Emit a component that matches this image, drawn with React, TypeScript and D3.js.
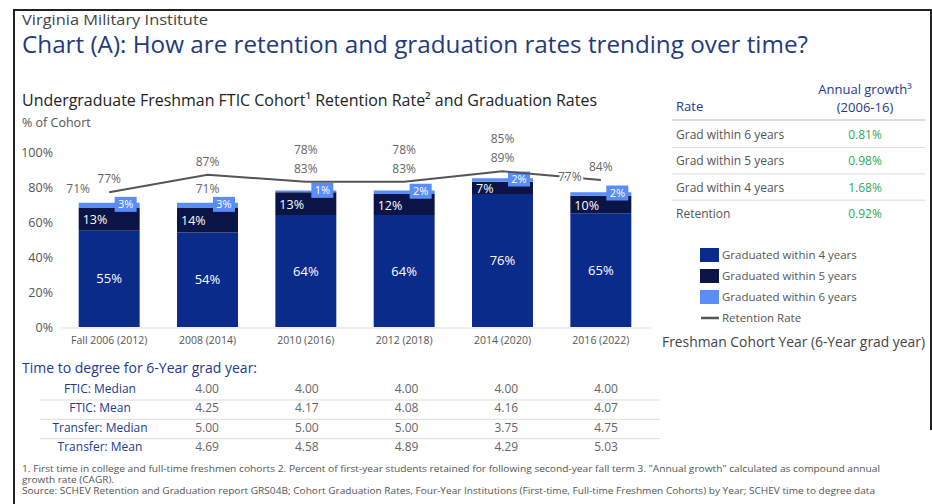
import React, { useEffect, useRef } from 'react';
import * as d3 from 'd3';

// cohort year (6-year grad year)
const cohorts = ['Fall 2006 (2012)', '2008 (2014)', '2010 (2016)', '2012 (2018)', '2014 (2020)', '2016 (2022)'];
const grad4 = [55, 54, 64, 64, 76, 65];
const grad5 = [13, 14, 13, 12, 7, 10];
const grad6 = [3, 3, 1, 2, 2, 2];
const gradTotal = [71, 71, 78, 78, 85, 77];
const retention = [77, 87, 83, 83, 89, 84];
const yTicks = [0, 20, 40, 60, 80, 100];

const legendLabels = ['Graduated within 4 years', 'Graduated within 5 years', 'Graduated within 6 years'];
const lineLegendLabel = 'Retention Rate';

const growthRates = ['Grad within 6 years', 'Grad within 5 years', 'Grad within 4 years', 'Retention'];
const growthValues = ['0.81%', '0.98%', '1.68%', '0.92%'];

const degreeMeasures = ['FTIC: Median', 'FTIC: Mean', 'Transfer: Median', 'Transfer: Mean'];
const fticMedian = [4.0, 4.0, 4.0, 4.0, 4.0];
const fticMean = [4.25, 4.17, 4.08, 4.16, 4.07];
const transferMedian = [5.0, 5.0, 5.0, 3.75, 4.75];
const transferMean = [4.69, 4.58, 4.89, 4.29, 5.03];

const footnotes = [
    '1. First time in college and full-time freshmen cohorts 2. Percent of first-year students retained for following second-year fall term  3. "Annual growth" calculated as compound annual',
    'growth rate (CAGR).',
    'Source: SCHEV Retention and Graduation report GRS04B; Cohort Graduation Rates, Four-Year Institutions (First-time, Full-time Freshmen Cohorts) by Year; SCHEV time to degree data',
];

const W = 932;
const H = 504;
const FONT = "'Open Sans', 'Noto Sans', sans-serif";
const NAVY = '#24398a';
const GRAY = '#555';
const colors = ['#0b2b8b', '#0a1446', '#5a8df5'];

const App: React.FC = () => {
    const svgRef = useRef<SVGSVGElement | null>(null);

    useEffect(() => {
        const svg = d3.select(svgRef.current);
        svg.selectAll('*').remove();
        svg.attr('width', W).attr('height', H).style('font-family', FONT);

        svg.append('rect').attr('width', W).attr('height', H).attr('fill', '#fff');

        // outer frame
        svg.append('path')
            .attr('d', 'M14,504V10H931V430')
            .attr('fill', 'none')
            .attr('stroke', '#222')
            .attr('stroke-width', 2);

        // headings
        svg.append('text').attr('x', 22).attr('y', 25)
            .attr('font-size', 14.5).attr('fill', '#444')
            .attr('textLength', 186).attr('lengthAdjust', 'spacingAndGlyphs')
            .text('Virginia Military Institute');
        svg.append('text').attr('x', 22).attr('y', 53)
            .attr('font-size', 23.5).attr('fill', '#1f3a7d')
            .attr('textLength', 786).attr('lengthAdjust', 'spacingAndGlyphs')
            .text('Chart (A): How are retention and graduation rates trending over time?');
        svg.append('text').attr('x', 22).attr('y', 106)
            .attr('font-size', 16).attr('fill', '#222')
            .attr('textLength', 575).attr('lengthAdjust', 'spacingAndGlyphs')
            .text('Undergraduate Freshman FTIC Cohort¹ Retention Rate² and Graduation Rates');
        svg.append('text').attr('x', 22).attr('y', 127)
            .attr('font-size', 12.5).attr('fill', GRAY)
            .text('% of Cohort');

        // scales
        const x = d3.scaleBand<string>()
            .domain(cohorts)
            .range([60, 650])
            .paddingInner(0.38)
            .paddingOuter(0.19);
        const y = d3.scaleLinear().domain([0, 100]).range([327, 152]);
        const bw = x.bandwidth();
        const cx = (c: string) => (x(c) as number) + bw / 2;

        // y axis
        const yAxis = svg.append('g')
            .attr('transform', 'translate(53,0)')
            .call(d3.axisLeft(y).tickValues(yTicks).tickFormat(d => `${d}%`).tickSize(0).tickPadding(0));
        yAxis.select('.domain').remove();
        yAxis.selectAll('text').attr('fill', GRAY).attr('font-size', 12.5).style('font-family', FONT);

        // x axis
        const xAxis = svg.append('g')
            .attr('transform', 'translate(0,327.5)')
            .call(d3.axisBottom(x).tickSize(0).tickPadding(9.5));
        xAxis.select('.domain').attr('stroke', '#ddd');
        xAxis.selectAll('text').attr('fill', GRAY).attr('font-size', 10.5).style('font-family', FONT);

        // stacked bars
        const rows = cohorts.map((c, i) => ({ cohort: c, g4: grad4[i], g5: grad5[i], g6: grad6[i] }));
        const keys = ['g4', 'g5', 'g6'];
        const series = d3.stack<any>().keys(keys)(rows);

        series.forEach((s, si) => {
            svg.append('g')
                .selectAll('rect')
                .data(s)
                .enter()
                .append('rect')
                .attr('x', d => x(d.data.cohort) as number)
                .attr('y', d => y(d[1]))
                .attr('width', bw)
                .attr('height', d => y(d[0]) - y(d[1]))
                .attr('fill', colors[si]);
        });

        // 4-year labels
        svg.append('g').selectAll('text')
            .data(series[0])
            .enter()
            .append('text')
            .attr('x', d => cx(d.data.cohort))
            .attr('y', d => (y(d[0]) + y(d[1])) / 2 + 4.5)
            .attr('text-anchor', 'middle')
            .attr('font-size', 13)
            .attr('fill', '#fff')
            .text(d => `${d[1] - d[0]}%`);

        // 5-year labels
        svg.append('g').selectAll('text')
            .data(series[1])
            .enter()
            .append('text')
            .attr('x', d => (x(d.data.cohort) as number) + 4)
            .attr('y', d => (y(d[0]) + y(d[1])) / 2 + 5)
            .attr('font-size', 12.5)
            .attr('fill', '#fff')
            .text(d => `${d[1] - d[0]}%`);

        // 6-year labels with boxes
        const g6 = svg.append('g').selectAll('g')
            .data(series[2])
            .enter()
            .append('g')
            .attr('transform', d => `translate(${(x(d.data.cohort) as number) + bw - 3},${(y(d[0]) + y(d[1])) / 2 - 1})`);
        g6.append('rect')
            .attr('x', -22).attr('y', -7.5)
            .attr('width', 22).attr('height', 15)
            .attr('fill', colors[2]);
        g6.append('text')
            .attr('x', -11).attr('y', 4)
            .attr('text-anchor', 'middle')
            .attr('font-size', 11)
            .attr('fill', '#fff')
            .text(d => `${d[1] - d[0]}%`);

        // retention line
        const line = d3.line<number>()
            .x((_, i) => cx(cohorts[i]))
            .y(d => y(d));
        svg.append('path')
            .datum(retention)
            .attr('d', line)
            .attr('fill', 'none')
            .attr('stroke', '#555')
            .attr('stroke-width', 2);

        // retention labels
        svg.append('g').selectAll('text')
            .data(retention)
            .enter()
            .append('text')
            .attr('x', (_, i) => cx(cohorts[i]))
            .attr('y', d => y(d) - 9)
            .attr('text-anchor', 'middle')
            .attr('font-size', 12)
            .attr('fill', '#666')
            .text(d => `${d}%`);

        // total graduation labels
        const placement = ['left', 'belowLine', 'above', 'above', 'above', 'left'];
        svg.append('g').selectAll('text')
            .data(gradTotal)
            .enter()
            .append('text')
            .attr('x', (_, i) => cx(cohorts[i]) + (placement[i] === 'left' ? -31 : 0))
            .attr('y', (d, i) => {
                if (placement[i] === 'left') return y(retention[i]) + 1;
                if (placement[i] === 'belowLine') return y(d) - 10;
                return y(retention[i]) - 28;
            })
            .attr('text-anchor', 'middle')
            .attr('font-size', 12)
            .attr('fill', '#666')
            .attr('stroke', '#fff')
            .attr('stroke-width', 4)
            .attr('paint-order', 'stroke')
            .text(d => `${d}%`);

        // legend
        const legend = svg.append('g').attr('transform', 'translate(700,0)');
        legendLabels.forEach((label, i) => {
            const ly = 255 + i * 21;
            legend.append('rect')
                .attr('x', 0).attr('y', ly - 7)
                .attr('width', 19).attr('height', 14)
                .attr('fill', colors[i]);
            legend.append('text')
                .attr('x', 22).attr('y', ly + 4)
                .attr('font-size', 11.5).attr('fill', GRAY)
                .text(label);
        });
        legend.append('line')
            .attr('x1', 1).attr('x2', 19)
            .attr('y1', 318).attr('y2', 318)
            .attr('stroke', '#555').attr('stroke-width', 2.5);
        legend.append('text')
            .attr('x', 22).attr('y', 322)
            .attr('font-size', 11.5).attr('fill', GRAY)
            .text(lineLegendLabel);

        svg.append('text')
            .attr('x', 662).attr('y', 347)
            .attr('font-size', 14).attr('fill', '#444')
            .attr('textLength', 263).attr('lengthAdjust', 'spacingAndGlyphs')
            .text('Freshman Cohort Year (6-Year grad year)');

        // annual growth table
        const tbl = svg.append('g');
        const valueX = 865;
        tbl.append('text').attr('x', 676).attr('y', 111)
            .attr('font-size', 13).attr('fill', NAVY).text('Rate');
        tbl.append('text').attr('x', valueX).attr('y', 94)
            .attr('text-anchor', 'middle')
            .attr('font-size', 13).attr('fill', NAVY).text('Annual growth³');
        tbl.append('text').attr('x', valueX).attr('y', 112)
            .attr('text-anchor', 'middle')
            .attr('font-size', 13).attr('fill', NAVY).text('(2006-16)');
        tbl.append('line')
            .attr('x1', 672).attr('x2', 925).attr('y1', 120).attr('y2', 120)
            .attr('stroke', '#bbb').attr('stroke-width', 1);

        const rowY = d3.scalePoint<string>().domain(growthRates).range([139, 218]);
        growthRates.forEach((r, i) => {
            const ry = rowY(r) as number;
            tbl.append('text').attr('x', 676).attr('y', ry)
                .attr('font-size', 12).attr('fill', GRAY).text(r);
            tbl.append('text').attr('x', valueX).attr('y', ry)
                .attr('text-anchor', 'middle')
                .attr('font-size', 12).attr('fill', '#2fa85a').text(growthValues[i]);
            if (i < growthRates.length - 1) {
                tbl.append('line')
                    .attr('x1', 672).attr('x2', 925)
                    .attr('y1', ry + 8.5).attr('y2', ry + 8.5)
                    .attr('stroke', '#ddd').attr('stroke-width', 1);
            }
        });

        // time to degree table
        svg.append('text').attr('x', 22).attr('y', 373)
            .attr('font-size', 14).attr('fill', NAVY)
            .text('Time to degree for 6-Year grad year:');

        const degreeRows = [fticMedian, fticMean, transferMedian, transferMean];
        const colX = d3.scalePoint<number>().domain(d3.range(fticMedian.length)).range([207, 606]);
        const degY = d3.scalePoint<string>().domain(degreeMeasures).range([393, 451]);
        degreeMeasures.forEach((m, ri) => {
            const ry = degY(m) as number;
            svg.append('text').attr('x', 100).attr('y', ry)
                .attr('text-anchor', 'middle')
                .attr('font-size', 12).attr('fill', NAVY)
                .text(m);
            svg.append('g').selectAll('text')
                .data(degreeRows[ri])
                .enter()
                .append('text')
                .attr('x', (_, ci) => colX(ci) as number)
                .attr('y', ry)
                .attr('text-anchor', 'middle')
                .attr('font-size', 12)
                .attr('fill', '#666')
                .text(d => d.toFixed(2));
            if (ri < degreeMeasures.length - 1) {
                svg.append('line')
                    .attr('x1', 40).attr('x2', 660)
                    .attr('y1', ry + 7).attr('y2', ry + 7)
                    .attr('stroke', '#ddd').attr('stroke-width', 1);
            }
        });

        // footnotes
        const fnLen = [858, 92, 853];
        footnotes.forEach((t, i) => {
            svg.append('text')
                .attr('x', 22).attr('y', 472 + i * 11)
                .attr('font-size', 8.8).attr('fill', GRAY)
                .attr('textLength', fnLen[i]).attr('lengthAdjust', 'spacingAndGlyphs')
                .text(t);
        });
    }, []);

    return (
        <svg ref={svgRef} style={{ position: 'absolute', left: 0, top: 0, display: 'block' }}></svg>
    );
};

export default App;
